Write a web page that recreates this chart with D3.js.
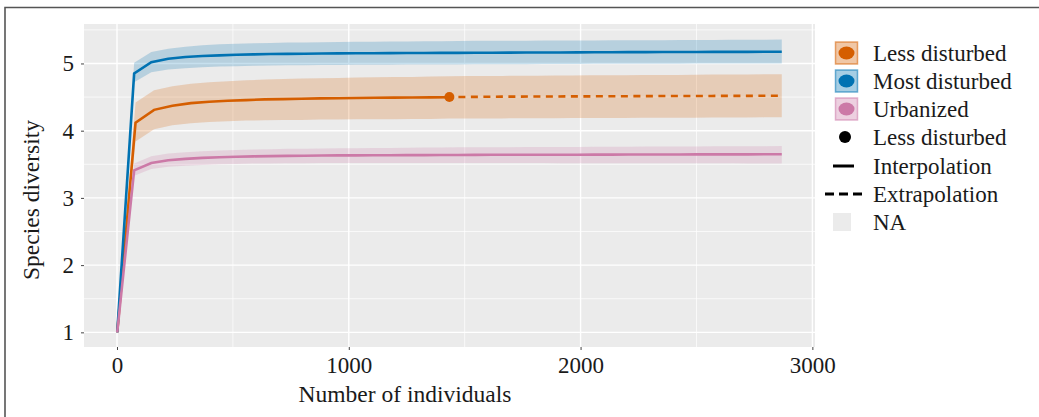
<!DOCTYPE html>
<html><head><meta charset="utf-8">
<script src="https://cdn.jsdelivr.net/npm/d3@7"></script>
<style>body{margin:0;background:#fff}svg{display:block}text{font-family:"Liberation Serif","Times New Roman",serif;fill:#1a1a1a}</style>
</head><body><svg id="c" width="1039" height="417"></svg>
<script>
// ---- data ----
const groups = ["Less disturbed", "Most disturbed", "Urbanized"];
const colors = ["#D55E00", "#0072B2", "#CC79A7"];
const xTicks = [0, 1000, 2000, 3000];
const yTicks = [1, 2, 3, 4, 5];

const knots40 = [1,74,148,221,295,368,442,515,589,662,736,809,883,956,1030,1103,1177,1250,1324,1397,1471,1545,1618,1692,1765,1839,1912,1986,2059,2133,2206,2280,2353,2427,2500,2574,2647,2721,2794,2868];

const lessInterpX = [1,80,160,239,319,398,478,557,637,717,796,876,955,1035,1114,1194,1273,1353,1433,1434];
const lessInterpY = [1.00,4.12,4.31,4.37,4.41,4.43,4.445,4.455,4.465,4.47,4.475,4.48,4.483,4.486,4.489,4.492,4.494,4.496,4.498,4.50];
const lessInterpLo = [1.00,3.84,4.02,4.08,4.11,4.13,4.14,4.15,4.155,4.16,4.16,4.165,4.165,4.17,4.17,4.17,4.175,4.175,4.18,4.18];
const lessInterpHi = [1.00,4.42,4.60,4.66,4.70,4.72,4.735,4.75,4.76,4.77,4.775,4.78,4.785,4.79,4.795,4.80,4.80,4.805,4.81,4.81];
const lessExtrapX = [1434,1435,1510,1586,1661,1737,1812,1887,1963,2038,2114,2189,2265,2340,2416,2491,2566,2642,2717,2793,2868];
const lessExtrapY = [4.50,4.50,4.502,4.504,4.506,4.507,4.508,4.509,4.51,4.511,4.512,4.513,4.514,4.515,4.516,4.516,4.517,4.518,4.518,4.519,4.52];
const lessExtrapLo = [4.18,4.18,4.181,4.182,4.183,4.184,4.185,4.186,4.187,4.188,4.189,4.19,4.191,4.192,4.193,4.194,4.195,4.196,4.197,4.198,4.20];
const lessExtrapHi = [4.81,4.81,4.812,4.814,4.815,4.817,4.818,4.82,4.821,4.823,4.824,4.826,4.827,4.829,4.83,4.832,4.834,4.835,4.837,4.838,4.84];
const lessObsX = 1434, lessObsY = 4.50;

const mostY = [1.00,4.85,5.02,5.07,5.095,5.11,5.12,5.13,5.135,5.14,5.142,5.145,5.148,5.15,5.151,5.152,5.154,5.155,5.156,5.157,5.158,5.159,5.16,5.161,5.162,5.163,5.164,5.165,5.166,5.167,5.168,5.169,5.17,5.171,5.171,5.172,5.173,5.173,5.174,5.175];
const mostLo = [1.00,4.72,4.87,4.91,4.93,4.945,4.955,4.96,4.965,4.97,4.972,4.974,4.976,4.978,4.98,4.981,4.982,4.983,4.984,4.985,4.986,4.987,4.988,4.989,4.99,4.991,4.992,4.993,4.994,4.995,4.996,4.996,4.997,4.997,4.998,4.998,4.999,4.999,5.0,5.0];
const mostHi = [1.00,5.01,5.17,5.22,5.25,5.27,5.285,5.295,5.30,5.305,5.31,5.313,5.316,5.319,5.322,5.324,5.326,5.328,5.33,5.332,5.334,5.336,5.337,5.338,5.339,5.34,5.341,5.342,5.343,5.344,5.345,5.346,5.347,5.348,5.349,5.35,5.351,5.352,5.353,5.355];

const urbY = [1.00,3.41,3.52,3.56,3.58,3.595,3.605,3.612,3.618,3.622,3.625,3.628,3.63,3.632,3.633,3.634,3.635,3.636,3.637,3.638,3.639,3.64,3.641,3.641,3.642,3.642,3.643,3.643,3.644,3.644,3.645,3.645,3.646,3.646,3.647,3.647,3.648,3.648,3.649,3.65];
const urbLo = [1.00,3.33,3.43,3.465,3.48,3.49,3.50,3.505,3.51,3.513,3.515,3.517,3.518,3.519,3.52,3.52,3.52,3.52,3.52,3.52,3.519,3.519,3.519,3.518,3.518,3.518,3.517,3.517,3.517,3.516,3.516,3.516,3.515,3.515,3.515,3.514,3.514,3.513,3.513,3.512];
const urbHi = [1.00,3.51,3.62,3.66,3.68,3.695,3.705,3.713,3.72,3.725,3.73,3.733,3.736,3.738,3.74,3.742,3.744,3.746,3.748,3.75,3.752,3.753,3.754,3.755,3.756,3.757,3.758,3.759,3.76,3.761,3.762,3.763,3.764,3.765,3.766,3.767,3.768,3.769,3.77,3.772];

const legendTexts = ["Less disturbed","Most disturbed","Urbanized","Less disturbed","Interpolation","Extrapolation","NA"];

// ---- layout ----
const svg = d3.select("#c");
const P = {l: 84, r: 815, t: 24, b: 347};
const x = d3.scaleLinear().domain([-142.35, 3011.35]).range([P.l, P.r]);
const y = d3.scaleLinear().domain([0.782, 5.587]).range([P.b, P.t]);

// outer border (top & left)
svg.append("path").attr("d", "M5,417 L5,7.5 L1039,7.5").attr("fill","none").attr("stroke","#555").attr("stroke-width",1.6);

// panel
svg.append("rect").attr("x",P.l).attr("y",P.t).attr("width",P.r-P.l).attr("height",P.b-P.t).attr("fill","#EBEBEB");
const g = svg.append("g");
[500,1500,2500].forEach(v=>g.append("line").attr("x1",x(v)).attr("x2",x(v)).attr("y1",P.t).attr("y2",P.b).attr("stroke","#fff").attr("stroke-width",0.7));
[1.5,2.5,3.5,4.5,5.5].forEach(v=>g.append("line").attr("y1",y(v)).attr("y2",y(v)).attr("x1",P.l).attr("x2",P.r).attr("stroke","#fff").attr("stroke-width",0.7));
xTicks.forEach(v=>g.append("line").attr("x1",x(v)).attr("x2",x(v)).attr("y1",P.t).attr("y2",P.b).attr("stroke","#fff").attr("stroke-width",1.4));
yTicks.forEach(v=>g.append("line").attr("y1",y(v)).attr("y2",y(v)).attr("x1",P.l).attr("x2",P.r).attr("stroke","#fff").attr("stroke-width",1.4));

// axes
const xa = svg.append("g").attr("transform",`translate(0,${P.b})`).call(d3.axisBottom(x).tickValues(xTicks).tickSize(3).tickPadding(6).tickFormat(d3.format("d")));
const ya = svg.append("g").attr("transform",`translate(${P.l},0)`).call(d3.axisLeft(y).tickValues(yTicks).tickSize(3).tickPadding(7).tickFormat(d3.format("d")));
[xa,ya].forEach(a=>{a.select(".domain").remove();a.selectAll("line").attr("stroke","#444");a.selectAll("text").attr("font-family","Liberation Serif").attr("font-size",23).attr("fill","#1a1a1a");});
xa.selectAll("text").attr("dy","0.72em");

svg.append("text").attr("x",405).attr("y",402).attr("text-anchor","middle").attr("font-size",23.5).text("Number of individuals");
svg.append("text").attr("transform","translate(39,200) rotate(-90)").attr("text-anchor","middle").attr("font-size",23.5).text("Species diversity");

// series
const series = [
  {x: lessInterpX.concat(lessExtrapX.slice(1)), lo: lessInterpLo.concat(lessExtrapLo.slice(1)), hi: lessInterpHi.concat(lessExtrapHi.slice(1))},
  {x: knots40, lo: mostLo, hi: mostHi},
  {x: knots40, lo: urbLo, hi: urbHi}
];
const area = d3.area().x(d=>x(d[0])).y0(d=>y(d[1])).y1(d=>y(d[2]));
series.forEach((s,i)=>{
  const pts = s.x.map((v,j)=>[v,s.lo[j],s.hi[j]]);
  g.append("path").attr("d",area(pts)).attr("fill",colors[i]).attr("fill-opacity",0.22);
});
const line = d3.line().x(d=>x(d[0])).y(d=>y(d[1]));
const lw = 2.6;
g.append("path").attr("d",line(lessInterpX.map((v,j)=>[v,lessInterpY[j]]))).attr("fill","none").attr("stroke",colors[0]).attr("stroke-width",lw);
g.append("path").attr("d",line(lessExtrapX.map((v,j)=>[v,lessExtrapY[j]]))).attr("fill","none").attr("stroke",colors[0]).attr("stroke-width",lw).attr("stroke-dasharray","7,5.5").attr("stroke-dashoffset",-9);
g.append("path").attr("d",line(knots40.map((v,j)=>[v,mostY[j]]))).attr("fill","none").attr("stroke",colors[1]).attr("stroke-width",lw);
g.append("path").attr("d",line(knots40.map((v,j)=>[v,urbY[j]]))).attr("fill","none").attr("stroke",colors[2]).attr("stroke-width",lw);
g.append("circle").attr("cx",x(lessObsX)).attr("cy",y(lessObsY)).attr("r",5).attr("fill",colors[0]);

// legend
const L = svg.append("g");
const rowY = [53,81,109,137,166,194,222];
for(let i=0;i<3;i++){
  L.append("rect").attr("x",835.5).attr("y",rowY[i]-11).attr("width",22).attr("height",22).attr("fill",colors[i]).attr("fill-opacity",0.35).attr("stroke",colors[i]).attr("stroke-opacity",0.55).attr("stroke-width",1.5);
  L.append("ellipse").attr("cx",846.5).attr("cy",rowY[i]).attr("rx",8).attr("ry",6.5).attr("fill",colors[i]);
}
L.append("circle").attr("cx",845).attr("cy",rowY[3]).attr("r",6).attr("fill","#000");
L.append("line").attr("x1",833).attr("x2",854).attr("y1",rowY[4]).attr("y2",rowY[4]).attr("stroke","#000").attr("stroke-width",3);
L.append("line").attr("x1",825).attr("x2",864).attr("y1",rowY[5]).attr("y2",rowY[5]).attr("stroke","#000").attr("stroke-width",3).attr("stroke-dasharray","9,5");
L.append("rect").attr("x",833).attr("y",rowY[6]-9).attr("width",18).attr("height",18).attr("fill","#EBEBEB");
legendTexts.forEach((t,i)=>L.append("text").attr("x",873).attr("y",rowY[i]+8).attr("font-size",23).text(t));
</script></body></html>
